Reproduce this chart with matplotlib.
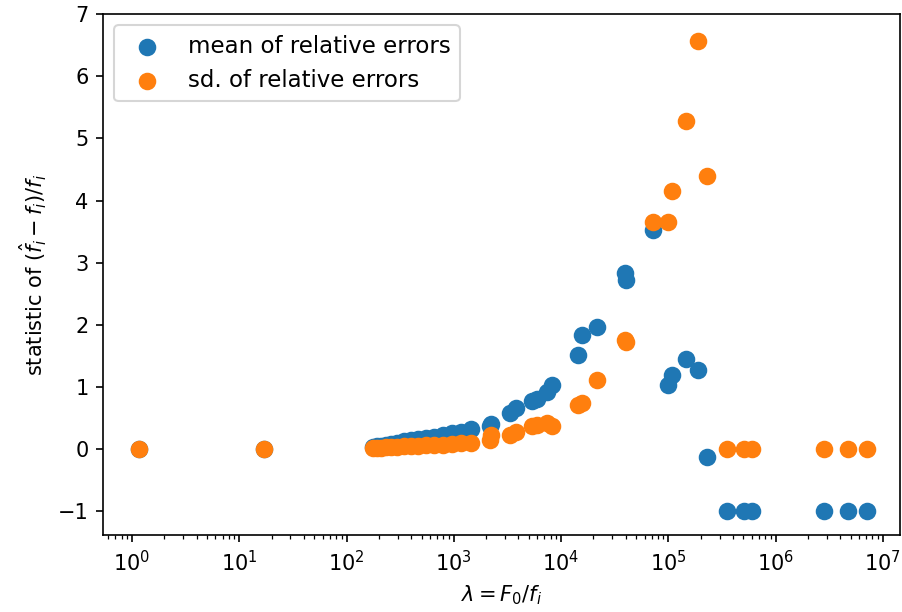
import matplotlib.pyplot as plt
import numpy as np

# lambda = F0 / f_i for each tested item
lam = np.array([1.16, 17.0,
                176, 192, 209, 233, 259, 295, 343, 398, 463, 549, 653, 791,
                960, 1165, 1443, 2170, 2218, 3335, 3795, 5346, 5946, 7378, 8205,
                1.44e4, 1.56e4, 2.16e4, 3.93e4, 4.02e4, 7.18e4, 9.9e4, 1.08e5,
                1.46e5, 1.88e5, 2.28e5, 3.5e5, 5.06e5, 6.0e5, 2.81e6, 4.71e6, 7.08e6])

mean_rel = np.array([0.0, 0.0,
                     0.032, 0.048, 0.048, 0.064, 0.08, 0.096, 0.129, 0.145, 0.161, 0.177, 0.193, 0.225,
                     0.257, 0.273, 0.32, 0.37, 0.40, 0.58, 0.67, 0.77, 0.80, 0.92, 1.03,
                     1.51, 1.83, 1.96, 2.83, 2.72, 3.52, 1.03, 1.19,
                     1.45, 1.27, -0.12, -1.0, -1.0, -1.0, -1.0, -1.0, -1.0])

sd_rel = np.array([0.0, 0.0,
                   0.016, 0.016, 0.016, 0.032, 0.032, 0.032, 0.048, 0.048, 0.048, 0.064, 0.064, 0.064,
                   0.08, 0.096, 0.096, 0.145, 0.225, 0.225, 0.273, 0.37, 0.386, 0.42, 0.37,
                   0.71, 0.74, 1.11, 1.75, 1.72, 3.65, 3.65, 4.16,
                   5.28, 6.56, 4.39, 0.0, 0.0, 0.0, 0.0, 0.0, 0.0])

fig = plt.figure(figsize=(903 / 150, 612 / 150), dpi=150)
ax = fig.add_axes([0.1141, 0.1258, 0.8826, 0.8513])

ax.scatter(lam, mean_rel, s=55, label='mean of relative errors')
ax.scatter(lam, sd_rel, s=55, label='sd. of relative errors')

ax.set_xscale('log')
ax.set_xlim(10 ** -0.27, 10 ** 7.16)
ax.set_ylim(-1.38, 7.0)
ax.set_xticks([10 ** k for k in range(8)])

ax.set_xlabel(r'$\lambda = F_0/f_i$')
ax.set_ylabel(r'statistic of $(\hat{f}_i - f_i)/f_i$')
ax.legend(loc='upper left', fontsize=11)

fig.savefig('out.png', dpi=150)
